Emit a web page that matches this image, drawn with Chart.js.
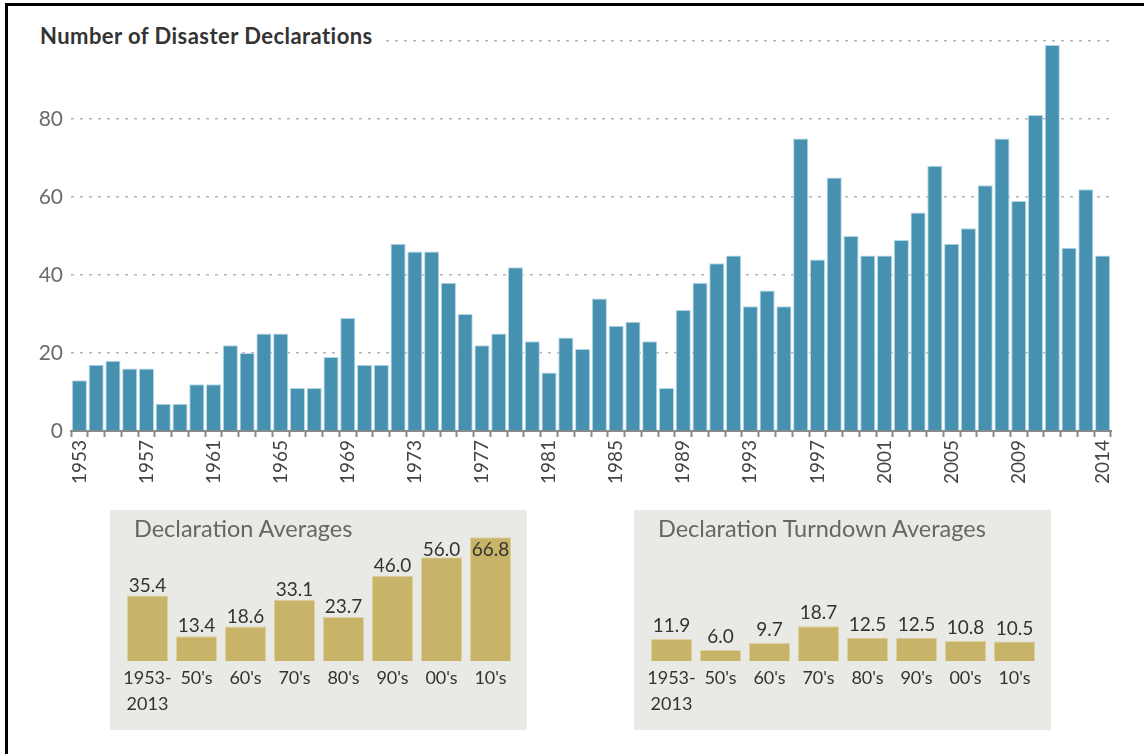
<!DOCTYPE html>
<html>
<head>
<meta charset="utf-8">
<script src="https://cdn.jsdelivr.net/npm/chart.js@4"></script>
<style>
  body { margin: 0; background: #fff; font-family: Lato, "Open Sans", sans-serif; }
  #page { position: relative; width: 1144px; height: 754px; overflow: hidden; }
  #frame { position: absolute; left: 5px; top: 3px; right: -10px; bottom: -10px;
           border-left: 3px solid #000; border-top: 3px solid #000; }
  #main-wrap { position: absolute; left: 0; top: 0; width: 1144px; height: 500px; }
  #main-title { position: absolute; left: 40px; top: 21px; padding-right: 10px;
                background: #fff; font-size: 22px; font-weight: bold; color: #333;
                line-height: 30px; letter-spacing: 0.45px; }
  .panel { position: absolute; top: 510px; width: 417px; height: 220px; background: #e9e9e5; }
  .panel canvas { position: absolute; left: 0; top: 0; }
  .panel-title { position: absolute; left: 24px; top: 3px; font-size: 23.5px; color: #666;
                 line-height: 30px; z-index: 2; }
</style>
</head>
<body>
<div id="page">
  <div id="main-wrap"><canvas id="mainChart"></canvas></div>
  <div id="main-title">Number of Disaster Declarations</div>
  <div class="panel" style="left:110px">
    <div class="panel-title">Declaration Averages</div>
    <div style="position:absolute;left:0;top:0;width:417px;height:220px"><canvas id="avgChart"></canvas></div>
  </div>
  <div class="panel" style="left:634px">
    <div class="panel-title">Declaration Turndown Averages</div>
    <div style="position:absolute;left:0;top:0;width:417px;height:220px"><canvas id="turnChart"></canvas></div>
  </div>
  <div id="frame"></div>
</div>
<script>
// yearly disaster declarations
const years = [
  1953, 1954, 1955, 1956, 1957, 1958, 1959, 1960, 1961, 1962,
  1963, 1964, 1965, 1966, 1967, 1968, 1969, 1970, 1971, 1972,
  1973, 1974, 1975, 1976, 1977, 1978, 1979, 1980, 1981, 1982,
  1983, 1984, 1985, 1986, 1987, 1988, 1989, 1990, 1991, 1992,
  1993, 1994, 1995, 1996, 1997, 1998, 1999, 2000, 2001, 2002,
  2003, 2004, 2005, 2006, 2007, 2008, 2009, 2010, 2011, 2012,
  2013, 2014
];
const declarations = [
  13, 17, 18, 16, 16, 7, 7, 12, 12, 22,
  20, 25, 25, 11, 11, 19, 29, 17, 17, 48,
  46, 46, 38, 30, 22, 25, 42, 23, 15, 24,
  21, 34, 27, 28, 23, 11, 31, 38, 43, 45,
  32, 36, 32, 75, 44, 65, 50, 45, 45, 49,
  56, 68, 48, 52, 63, 75, 59, 81, 99, 47,
  62, 45
];
const shownYears = [1953, 1957, 1961, 1965, 1969, 1973, 1977, 1981, 1985, 1989, 1993, 1997, 2001, 2005, 2009, 2014];
const yTicks = [0, 20, 40, 60, 80];

// decade averages
const decadeLabels = [["1953-", "2013"], "50's", "60's", "70's", "80's", "90's", "00's", "10's"];
const averages = [35.4, 13.4, 18.6, 33.1, 23.7, 46.0, 56.0, 66.8];
const turndowns = [11.9, 6.0, 9.7, 18.7, 12.5, 12.5, 10.8, 10.5];

const FONT = "Lato, 'Open Sans', sans-serif";

/** Main chart */
new Chart(document.getElementById("mainChart"), {
  type: "bar",
  data: {
    labels: years,
    datasets: [{
      data: declarations,
      backgroundColor: "#4690b0",
      borderColor: "#b5d8e6",
      borderWidth: 1,
      barPercentage: 0.9,
      categoryPercentage: 1,
    }],
  },
  options: {
    responsive: true,
    maintainAspectRatio: false,
    animation: false,
    layout: { padding: { left: 0, right: 33, top: 41, bottom: 0 } },
    plugins: { legend: { display: false }, tooltip: { enabled: false } },
    scales: {
      x: {
        afterFit: (scale) => { scale.height = 69; },
        grid: { drawOnChartArea: false, drawTicks: true, tickLength: 6, tickColor: "#8a8a8a", tickWidth: 2, offset: true },
        border: { display: true, color: "#8a8a8a", width: 2 },
        ticks: {
          autoSkip: false,
          minRotation: 90,
          maxRotation: 90,
          padding: 3,
          color: "#444",
          font: { family: FONT, size: 19 },
          callback: function (value, index) {
            const yr = years[index];
            return shownYears.includes(yr) ? String(yr) : "";
          },
        },
      },
      y: {
        min: 0,
        max: 100,
        afterFit: (scale) => { scale.width = 71; },
        ticks: {
          stepSize: 20,
          padding: 8,
          color: "#6b6b6b",
          font: { family: FONT, size: 21 },
          callback: (v) => (yTicks.includes(v) ? v : ""),
        },
        grid: {
          drawTicks: false,
          lineWidth: 1.5,
          color: (ctx) => (ctx.tick && ctx.tick.value === 0 ? "rgba(0,0,0,0)" : "#b5b5b5"),
        },
        border: { display: false, dash: [3, 6] },
      },
    },
  },
});

/** Value labels for small panels */
function valueLabels(offset) {
  return {
    id: "valueLabels",
    afterDatasetsDraw(chart) {
      const ctx = chart.ctx;
      const meta = chart.getDatasetMeta(0);
      ctx.save();
      ctx.fillStyle = "#333";
      ctx.font = "19px " + FONT;
      ctx.textAlign = "center";
      ctx.textBaseline = "middle";
      meta.data.forEach((bar, i) => {
        const val = chart.data.datasets[0].data[i];
        const y = Math.max(bar.y - offset, chart.chartArea.top + 15);
        ctx.fillText(val.toFixed(1), bar.x, y);
      });
      ctx.restore();
    },
  };
}

function panelChart(id, values, labelOffset) {
  return new Chart(document.getElementById(id), {
    type: "bar",
    data: {
      labels: decadeLabels,
      datasets: [{
        data: values,
        backgroundColor: "#c8b468",
        borderColor: "#ddd1a0",
        borderWidth: 1,
        barPercentage: 0.84,
        categoryPercentage: 1,
      }],
    },
    options: {
      responsive: true,
      maintainAspectRatio: false,
      animation: false,
      layout: { padding: { left: 13, right: 12, top: 25, bottom: 0 } },
      plugins: { legend: { display: false }, tooltip: { enabled: false } },
      scales: {
        x: {
          afterFit: (scale) => { scale.height = 69; },
          grid: { display: false },
          border: { display: false },
          ticks: {
            autoSkip: false,
            maxRotation: 0,
            padding: -3,
            color: "#333",
            font: { family: FONT, size: 18, lineHeight: 1.4 },
          },
        },
        y: { display: false, min: 0, max: 68 },
      },
    },
    plugins: [valueLabels(labelOffset)],
  });
}

panelChart("avgChart", averages, 10);
panelChart("turnChart", turndowns, 13);
</script>
</body>
</html>
